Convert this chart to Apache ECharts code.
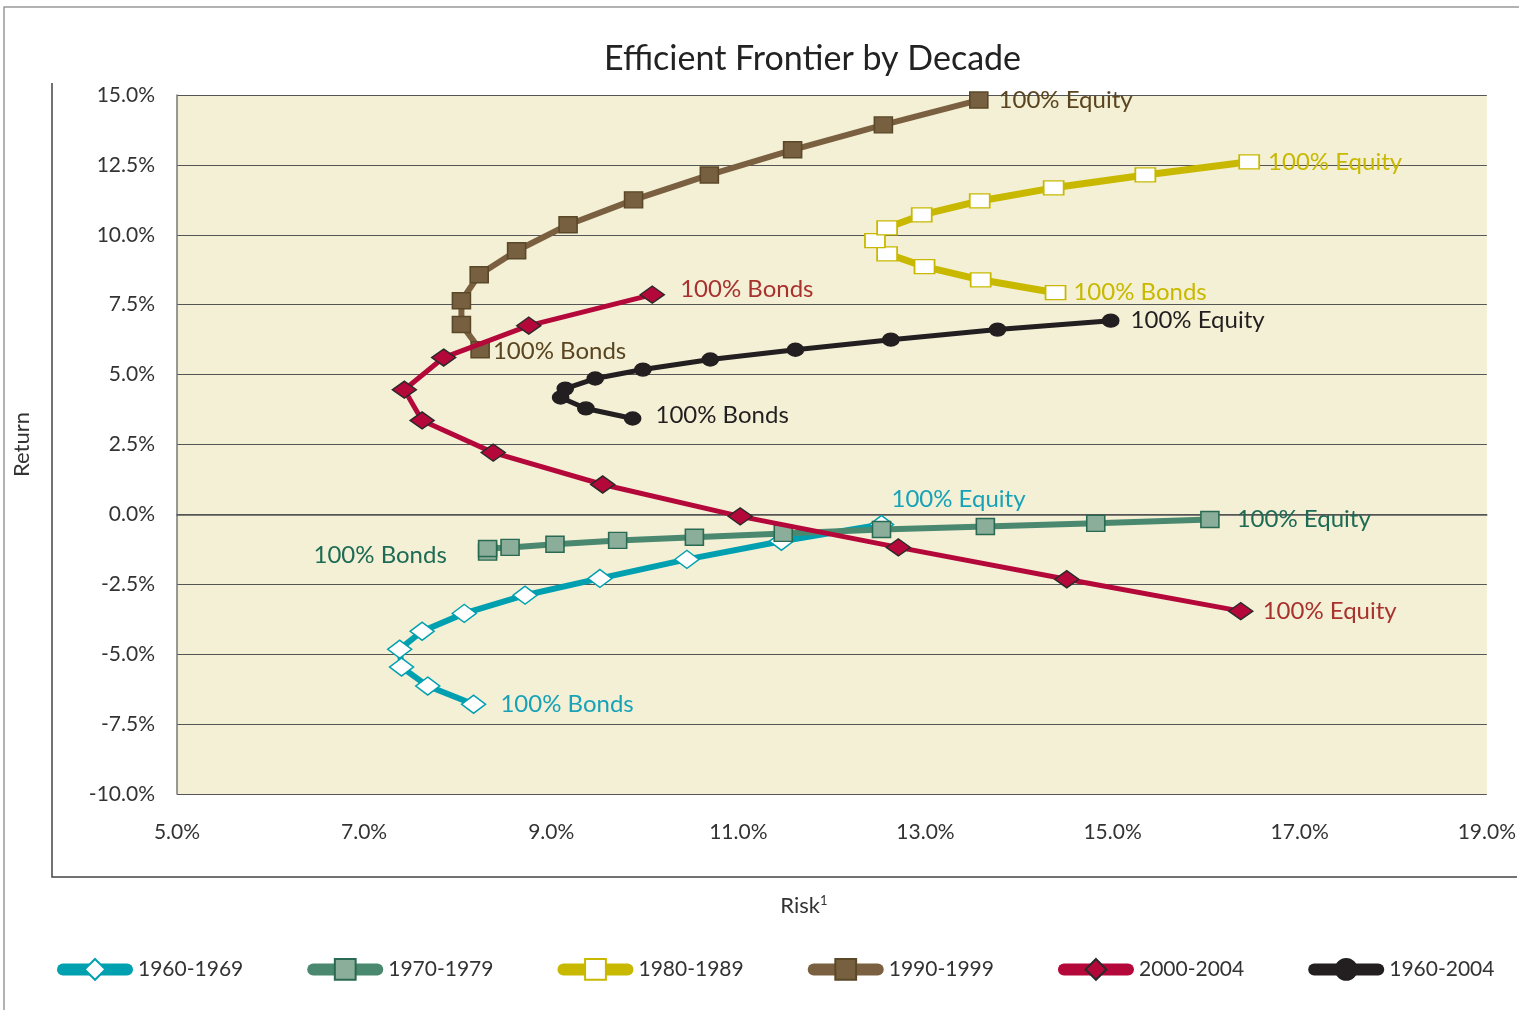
<!DOCTYPE html>
<html>
<head>
<meta charset="utf-8">
<title>Efficient Frontier by Decade</title>
<script src="https://cdn.jsdelivr.net/npm/echarts@6/dist/echarts.min.js"></script>
<style>
  html, body { margin: 0; padding: 0; background: #fff; }
  #chart { width: 1519px; height: 1010px; }
</style>
</head>
<body>
<div id="chart"></div>
<script>
/* Efficient frontier by decade: risk (x) vs return (y), 100% bonds -> 100% equity */
const decades = ['1960-1969', '1970-1979', '1980-1989', '1990-1999', '2000-2004', '1960-2004'];

// [risk %, return %], ordered from 100% bonds to 100% equity
const d1960s = [[8.17, -6.79], [7.68, -6.14], [7.40, -5.46], [7.38, -4.82], [7.62, -4.18], [8.07, -3.54],
  [8.72, -2.89], [9.52, -2.29], [10.45, -1.61], [11.46, -0.96], [12.53, -0.36]];
const d1970s = [[8.32, -1.35], [8.32, -1.22], [8.56, -1.18], [9.04, -1.07], [9.71, -0.93], [10.53, -0.82],
  [11.48, -0.68], [12.53, -0.54], [13.64, -0.43], [14.82, -0.32], [16.04, -0.18]];
const d1980s = [[14.39, 7.93], [13.59, 8.39], [12.99, 8.86], [12.59, 9.32], [12.46, 9.79], [12.59, 10.25],
  [12.96, 10.71], [13.58, 11.21], [14.37, 11.68], [15.35, 12.14], [16.46, 12.61]];
const d1990s = [[8.24, 5.89], [8.04, 6.79], [8.04, 7.64], [8.23, 8.57], [8.63, 9.43], [9.18, 10.36],
  [9.88, 11.25], [10.69, 12.14], [11.58, 13.04], [12.55, 13.93], [13.57, 14.82]];
const d2000s = [[10.08, 7.86], [8.76, 6.75], [7.85, 5.61], [7.43, 4.46], [7.62, 3.36], [8.38, 2.21],
  [9.55, 1.07], [11.02, -0.07], [12.71, -1.18], [14.51, -2.32], [16.37, -3.46]];
const dAll = [[9.87, 3.43], [9.37, 3.79], [9.10, 4.18], [9.15, 4.50], [9.47, 4.86], [9.98, 5.18],
  [10.70, 5.54], [11.61, 5.89], [12.63, 6.25], [13.77, 6.61], [14.98, 6.93]];

const bondsText = '100% Bonds';
const equityText = '100% Equity';

const FONT = 'Lato, "Open Sans", sans-serif';

const chart = echarts.init(document.getElementById('chart'));

function endLabel(text, color, extra) {
  return Object.assign({
    show: true, formatter: text, color: color, fontSize: 24, fontFamily: FONT, position: 'right'
  }, extra || {});
}

function frontier(name, pts, o) {
  const last = pts.length - 1;
  return {
    name: name,
    type: 'line',
    z: o.z,
    symbol: o.symbol,
    symbolSize: o.size,
    lineStyle: { color: o.line, width: o.width },
    itemStyle: { color: o.fill, borderColor: o.border, borderWidth: o.borderWidth || 1.5 },
    label: { show: false },
    emphasis: { disabled: true },
    data: pts.map((p, i) => {
      const d = { value: p };
      if (i === 0) d.label = endLabel(bondsText, o.text, o.bonds);
      if (i === last) d.label = endLabel(equityText, o.text, o.equity);
      return d;
    }),
  };
}

chart.setOption({
  animation: false,
  backgroundColor: '#fff',
  title: {
    text: 'Efficient Frontier by Decade',
    left: 599, top: 37,
    textStyle: { fontSize: 34, fontWeight: 'normal', color: '#222', fontFamily: FONT },
  },
  grid: { left: 177, right: 29, top: 95, bottom: 216, show: true, backgroundColor: '#f4f0d6', borderWidth: 0 },
  xAxis: {
    type: 'value', min: 5, max: 19, interval: 2,
    name: 'Risk{sup|1}', nameLocation: 'middle', nameGap: 100,
    nameTextStyle: {
      fontSize: 22, color: '#333', fontFamily: FONT, padding: [0, 56, 0, 0],
      rich: { sup: { fontSize: 13, color: '#333', verticalAlign: 'top', padding: [0, 0, 10, 0] } },
    },
    axisLine: { show: true, lineStyle: { color: '#555', width: 1.5 } },
    axisTick: { show: false },
    axisLabel: { fontSize: 21, color: '#333', margin: 28, fontFamily: FONT, formatter: (v) => v.toFixed(1) + '%' },
    splitLine: { show: false },
  },
  yAxis: {
    type: 'value', min: -10, max: 15, interval: 2.5,
    name: 'Return', nameLocation: 'middle', nameGap: 144,
    nameTextStyle: { fontSize: 22, color: '#333', fontFamily: FONT },
    axisLine: { show: true, lineStyle: { color: '#777', width: 1.5 } },
    axisTick: { show: false },
    axisLabel: { fontSize: 21, color: '#333', margin: 22, fontFamily: FONT, formatter: (v) => v.toFixed(1) + '%' },
    splitLine: { show: true, lineStyle: { color: '#555', width: 1.2 } },
  },
  legend: {
    left: 52, top: 953,
    itemWidth: 64, itemHeight: 26, itemGap: 64,
    lineStyle: { width: 12, cap: 'round' },
    textStyle: { fontSize: 21, color: '#333', fontFamily: FONT, padding: [0, 0, 0, 6] },
    data: decades,
  },
  graphic: [
    { type: 'polyline', shape: { points: [[4, 1010], [4, 7], [1519, 7]] }, style: { stroke: '#999', lineWidth: 1.5, fill: null } },
    { type: 'polyline', shape: { points: [[52, 83], [52, 877], [1517, 877]] }, style: { stroke: '#444', lineWidth: 1.5, fill: null } },
  ],
  series: [
    frontier(decades[0], d1960s, {
      z: 2, symbol: 'diamond', size: [24, 18], line: '#00a0b0', width: 6, fill: '#fff', border: '#00a0b0', text: '#18a2b8',
      bonds: { distance: 14 }, equity: { position: 'top', distance: 4, offset: [77, 0] },
    }),
    frontier(decades[1], d1970s, {
      z: 3, symbol: 'rect', size: [18, 16], line: '#4a8870', width: 6, fill: '#8aae9a', border: '#2a6a52', text: '#1e6b55',
      bonds: { position: 'left', distance: 31, offset: [0, 3] }, equity: { distance: 17 },
    }),
    frontier(decades[2], d1980s, {
      z: 4, symbol: 'rect', size: [20, 14], line: '#c8b900', width: 7, fill: '#fff', border: '#c8b900', text: '#c8b900',
      bonds: { distance: 7 }, equity: { distance: 8 },
    }),
    frontier(decades[3], d1990s, {
      z: 5, symbol: 'rect', size: [18, 16], line: '#7a6040', width: 6, fill: '#76603f', border: '#5a4828', text: '#5a4520',
      bonds: { distance: 3, offset: [0, 2] }, equity: { distance: 10 },
    }),
    frontier(decades[4], d2000s, {
      z: 6, symbol: 'diamond', size: [24, 17], line: '#b5083a', width: 5, fill: '#b5083a', border: '#2a2a2a', text: '#a8322d',
      bonds: { distance: 15, offset: [0, -5] }, equity: { distance: 9 },
    }),
    frontier(decades[5], dAll, {
      z: 7, symbol: 'circle', size: [16, 13], line: '#231f20', width: 5, fill: '#231f20', border: '#231f20', text: '#231f20',
      bonds: { distance: 14, offset: [0, -3] }, equity: { distance: 11 },
    }),
  ],
});

window.addEventListener('resize', () => chart.resize());
</script>
</body>
</html>
